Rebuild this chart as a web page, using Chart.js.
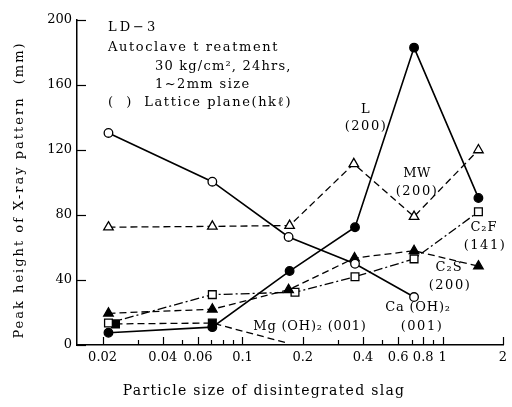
<!DOCTYPE html>
<html><head><meta charset="utf-8">
<script src="https://cdn.jsdelivr.net/npm/chart.js@4/dist/chart.umd.min.js"></script>
<style>html,body{margin:0;padding:0;background:#fff}#wrap{width:512px;height:407px;position:relative}</style>
</head><body><div id="wrap"><canvas id="c" width="512" height="407"></canvas></div>
<script>
// ---- data ----
const xL = [0.0214, 0.0707, 0.172, 0.365, 0.72, 1.51];
const L_200 = [7.5, 11, 45.5, 72.5, 183, 90.5];
const xCa = [0.0214, 0.0707, 0.170, 0.365, 0.72];
const CaOH2_001 = [130.5, 100.5, 66.5, 50, 29.5];
const xMW = [0.0214, 0.0707, 0.172, 0.36, 0.72, 1.51];
const MW_200 = [72.5, 73, 73.5, 111.5, 79, 120];
const xC2S = [0.0214, 0.0707, 0.170, 0.363, 0.72, 1.51];
const C2S_200 = [19.5, 22, 34, 53.5, 58, 48.5];
const xC2F = [0.0214, 0.0707, 0.183, 0.365, 0.72, 1.51];
const C2F_141 = [13.5, 31, 32.5, 42, 53, 82];
const xMg = [0.0232, 0.0707, 0.17];
const MgOH2_001 = [13, 13.5, 1];

const xTickValues = [0.02,0.03,0.04,0.05,0.06,0.07,0.08,0.09,0.1,0.2,0.3,0.4,0.5,0.6,0.7,0.8,0.9,1,2];
const xTickLabels = {0.02:'0.02',0.04:'0.04',0.06:'0.06',0.1:'0.1',0.2:'0.2',0.4:'0.4',0.6:'0.6',0.8:'0.8',1:'1',2:'2'};
const yTickValues = [0, 40, 80, 120, 160, 200];

const pts = (xs, ys) => xs.map((x, i) => ({x, y: ys[i]}));
const FONT = 'DejaVu Serif';

function ds(label, xs, ys, style, fill, dash, extra) {
  return Object.assign({
    label, data: pts(xs, ys), borderColor: '#000', borderWidth: 1.6,
    borderDash: dash, pointStyle: style, pointRadius: style === 'rect' ? 5.5 : (style === 'triangle' ? 5.5 : 4.3),
    pointBackgroundColor: fill, pointBorderColor: '#000', pointBorderWidth: 1.3,
    showLine: true, tension: 0, fill: false
  }, extra || {});
}

const texts = [
  // [text, x, y, size, spacing, align]
  ['LD\u22123', 108, 28, 13, 3, 'left'],
  ['Autoclave t reatment', 108, 48, 13, 1.6, 'left'],
  ['30 kg/cm\u00B2, 24hrs,', 155, 67, 13, 1.2, 'left'],
  ['1~2mm size', 155, 85, 13, 1.4, 'left'],
  ['(  )  Lattice plane(hk\u2113)', 108, 103, 13, 1.6, 'left'],
  ['L', 366, 110, 13, 1.5, 'center'],
  ['(200)', 366, 127, 13, 1.5, 'center'],
  ['MW', 417, 174, 13, 0.5, 'center'],
  ['(200)', 417, 192, 13, 1.5, 'center'],
  ['C\u2082F', 484, 228, 13, 1, 'center'],
  ['(141)', 485, 246, 13, 1.5, 'center'],
  ['C\u2082S', 449, 268, 13, 1, 'center'],
  ['(200)', 450, 286, 13, 1.5, 'center'],
  ['Ca (OH)\u2082', 418, 308, 13, 0.8, 'center'],
  ['(001)', 422, 327, 13, 1.5, 'center'],
  ['Mg (OH)\u2082 (001)', 310, 327, 13, 0.8, 'center']
];

const decor = {
  id: 'decor',
  afterDraw(chart) {
    const ctx = chart.ctx, xs = chart.scales.x, ys = chart.scales.y;
    ctx.save();
    ctx.strokeStyle = '#000'; ctx.lineWidth = 1.2;
    yTickValues.forEach(v => {
      const p = Math.round(ys.getPixelForValue(v)) + 0.5;
      ctx.beginPath(); ctx.moveTo(xs.left, p); ctx.lineTo(xs.left + 9, p); ctx.stroke();
    });
    xTickValues.forEach(v => {
      const p = Math.round(xs.getPixelForValue(v)) + 0.5;
      const len = xTickLabels[v] ? 8 : 5;
      ctx.beginPath(); ctx.moveTo(p, ys.bottom); ctx.lineTo(p, ys.bottom - len); ctx.stroke();
    });
    ctx.fillStyle = '#000';
    ctx.textBaseline = 'middle';
    texts.forEach(([t, x, y, size, sp, al]) => {
      ctx.font = size + 'px "' + FONT + '"';
      ctx.letterSpacing = sp + 'px';
      ctx.textAlign = al;
      ctx.fillText(t, x, y);
    });
    // axis titles
    ctx.font = '14px "' + FONT + '"';
    ctx.letterSpacing = '1.3px';
    ctx.textAlign = 'center';
    ctx.fillText('Particle size of disintegrated slag', 264, 391);
    ctx.save();
    ctx.translate(20, 190);
    ctx.rotate(-Math.PI / 2);
    ctx.font = '13px "' + FONT + '"';
    ctx.letterSpacing = '2px';
    ctx.fillText('Peak height of X-ray pattern  (mm)', 0, 0);
    ctx.restore();
    ctx.restore();
  }
};

new Chart(document.getElementById('c'), {
  type: 'scatter',
  data: {
    datasets: [
      ds('Ca(OH)2 (001)', xCa, CaOH2_001, 'circle', '#fff', []),
      ds('L (200)', xL, L_200, 'circle', '#000', []),
      ds('MW (200)', xMW, MW_200, 'triangle', '#fff', [7, 4], {borderWidth: 1.3}),
      ds('C2S (200)', xC2S, C2S_200, 'triangle', '#000', [7, 4], {borderWidth: 1.3}),
      ds('C2F (141)', xC2F, C2F_141, 'rect', '#fff', [9, 3, 2, 3], {borderWidth: 1.3}),
      ds('Mg(OH)2 (001)', xMg, MgOH2_001, 'rect', '#000', [7, 4], {borderWidth: 1.3, pointRadius: [5.5, 5.5, 0]})
    ]
  },
  options: {
    responsive: false, animation: false, devicePixelRatio: 1,
    layout: {padding: {top: 20, right: 3, left: 0, bottom: 0}},
    plugins: {legend: {display: false}, tooltip: {enabled: false}},
    scales: {
      x: {
        type: 'logarithmic', min: 0.0149, max: 2.02,
        afterBuildTicks: s => { s.ticks = xTickValues.map(v => ({value: v})); },
        afterFit: s => { s.height = 62; },
        grid: {display: false, drawTicks: false},
        border: {display: true, color: '#000', width: 1.5},
        ticks: {autoSkip: false, maxRotation: 0, padding: 5, color: '#000',
          font: {family: FONT, size: 13},
          callback: v => xTickLabels[v] || ''}
      },
      y: {
        min: 0, max: 200,
        afterBuildTicks: s => { s.ticks = yTickValues.map(v => ({value: v})); },
        afterFit: s => { s.width = 77; },
        grid: {display: false, drawTicks: false},
        border: {display: true, color: '#000', width: 1.5},
        ticks: {padding: 5, color: '#000', font: {family: FONT, size: 13}}
      }
    }
  },
  plugins: [decor]
});
</script>
</body></html>
